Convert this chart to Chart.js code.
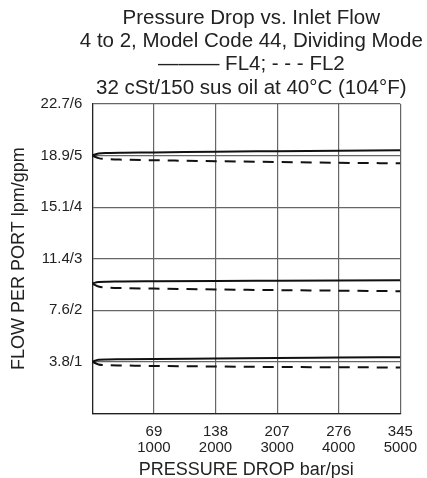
<!DOCTYPE html>
<html>
<head>
<meta charset="utf-8">
<script src="https://cdn.jsdelivr.net/npm/chart.js@4/dist/chart.umd.min.js"></script>
<style>
html,body{margin:0;padding:0;background:#fff;}
#wrap{width:427px;height:478px;position:relative;}
</style>
</head>
<body>
<div id="wrap"><canvas id="c" width="427" height="478"></canvas></div>
<script>
// Pressure drop (psi) sample points
const pressurePsi = [0, 100, 250, 500, 1000, 2000, 3000, 4000, 5000];
// Flow per port (gpm)
const fl4High = [5.00, 5.04, 5.05, 5.055, 5.06, 5.075, 5.085, 5.095, 5.105];
const fl2High = [5.00, 4.95, 4.93, 4.92, 4.91, 4.89, 4.875, 4.86, 4.85];
const fl4Mid  = [2.52, 2.55, 2.555, 2.56, 2.563, 2.568, 2.572, 2.576, 2.58];
const fl2Mid  = [2.52, 2.46, 2.44, 2.43, 2.42, 2.405, 2.39, 2.38, 2.37];
const fl4Low  = [1.00, 1.04, 1.045, 1.05, 1.057, 1.065, 1.075, 1.082, 1.09];
const fl2Low  = [1.00, 0.95, 0.935, 0.93, 0.92, 0.91, 0.90, 0.895, 0.89];
// Tick labels
const xTickLabels = {1000: ['69', '1000'], 2000: ['138', '2000'], 3000: ['207', '3000'], 4000: ['276', '4000'], 5000: ['345', '5000']};
const yTickLabels = {1: '3.8/1', 2: '7.6/2', 3: '11.4/3', 4: '15.1/4', 5: '18.9/5', 6: '22.7/6'};
const titleLines = ['Pressure Drop vs. Inlet Flow', '4 to 2, Model Code 44, Dividing Mode', '\u2014\u2014\u2014 FL4; - - - FL2', '32 cSt/150 sus oil at 40\u00B0C (104\u00B0F)'];

const FONT = '"Liberation Sans", Arial, Helvetica, sans-serif';
function pts(ys){ return pressurePsi.map((x,i)=>({x:x, y:ys[i]})); }
function solid(ys){ return {data: pts(ys), borderColor:'#111', borderWidth:2, pointRadius:0, fill:false, cubicInterpolationMode:'monotone'}; }
function dashed(ys){ return {data: pts(ys), borderColor:'#111', borderWidth:2, borderDash:[11,8], pointRadius:0, fill:false, cubicInterpolationMode:'monotone'}; }

const titlePlugin = {
  id: 'multiTitle',
  afterDraw(chart) {
    const ctx = chart.ctx, a = chart.chartArea;
    ctx.save();
    ctx.fillStyle = '#222';
    ctx.font = '20.5px ' + FONT;
    ctx.textAlign = 'center';
    ctx.textBaseline = 'middle';
    const cx = (a.left + a.right) / 2 + 5;
    titleLines.forEach((t, i) => ctx.fillText(t, cx, 18 + i * 23.4));
    ctx.restore();
  }
};

new Chart(document.getElementById('c'), {
  type: 'line',
  data: { datasets: [solid(fl4High), dashed(fl2High), solid(fl4Mid), dashed(fl2Mid), solid(fl4Low), dashed(fl2Low)] },
  plugins: [titlePlugin],
  options: {
    responsive: false,
    animation: false,
    layout: { padding: { left: 8, right: 18, top: 104, bottom: -3 } },
    plugins: {
      legend: { display: false },
      tooltip: { enabled: false },
      title: { display: false }
    },
    scales: {
      x: {
        type: 'linear', min: 0, max: 5000,
        ticks: { stepSize: 1000, color: '#222', font: { family: FONT, size: 15, lineHeight: 1.1 }, maxRotation: 0, padding: 10,
          callback: v => xTickLabels[v] || '' },
        grid: { color: '#666', lineWidth: 1.2, drawTicks: false },
        border: { color: '#222', width: 1.2 },
        title: { display: true, text: 'PRESSURE DROP bar/psi', color: '#222', font: { family: FONT, size: 18, lineHeight: 1.2 }, padding: { top: -7, bottom: 0 } }
      },
      y: {
        type: 'linear', min: 0, max: 6,
        ticks: { stepSize: 1, color: '#222', font: { family: FONT, size: 15 }, padding: 10,
          callback: v => yTickLabels[v] || '' },
        grid: { color: '#666', lineWidth: 1.2, drawTicks: false },
        border: { color: '#222', width: 1.2 },
        title: { display: true, text: 'FLOW PER PORT lpm/gpm', color: '#222', font: { family: FONT, size: 18, lineHeight: 1.2 }, padding: { top: 0, bottom: 1 } }
      }
    }
  }
});
</script>
</body>
</html>
